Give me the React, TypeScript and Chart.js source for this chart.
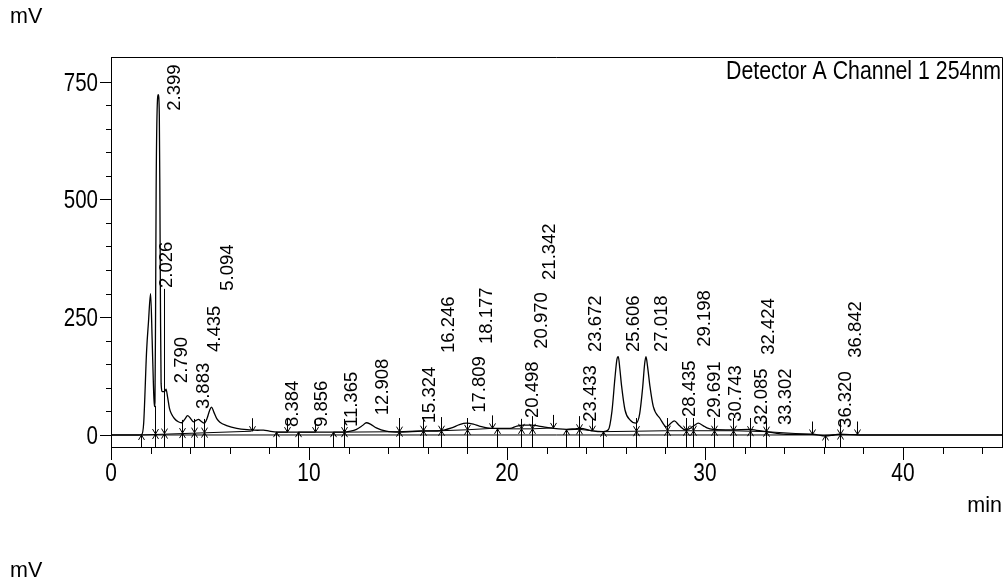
import React, { useEffect, useRef } from "react";
import { Chart, registerables } from "chart.js";

Chart.register(...registerables);

// ---- chromatogram signal (min, mV) ----
const signalTime = [
  0, 1.4, 1.55, 1.65, 1.8, 1.89, 2.0, 2.08, 2.14, 2.19, 2.22, 2.25, 2.28, 2.33, 2.39, 2.44, 2.47, 2.5, 2.53, 2.6,
  2.7, 2.78, 2.86, 2.95, 3.05, 3.2, 3.4, 3.57, 3.72, 3.87, 4.0, 4.16, 4.3, 4.42, 4.55, 4.71, 4.85, 4.98, 5.08, 5.2,
  5.35, 5.5, 5.84, 6.35, 7.0, 7.4, 7.7, 8.0, 8.4, 9.0, 10.0, 11.0, 11.7, 12.1, 12.4, 12.7, 12.9, 13.1, 13.4, 13.9,
  14.6, 15.7, 16.6, 17.2, 17.6, 17.96, 18.3, 18.6, 19.2, 20.15, 20.5, 20.83, 21.25, 21.6, 22.0, 23.0, 23.4, 23.7, 24.28, 24.86,
  25.12, 25.3, 25.45, 25.55, 25.62, 25.7, 25.79, 25.96, 26.21, 26.52, 26.7, 26.85, 26.95, 27.02, 27.1, 27.22, 27.39, 27.73, 28.06, 28.25,
  28.45, 28.7, 29.0, 29.2, 29.45, 29.66, 29.9, 30.1, 30.4, 31.35, 32.27, 32.6, 33.1, 34.1, 35.4, 36.1, 36.5, 36.8, 37.8, 45.0,
];
const signalMv = [
  0, 0, 1, 25, 180, 238, 300, 200, 110, 60, 70, 250, 520, 690, 722, 680, 500, 260, 110, 92,
  92, 97, 80, 57, 45, 35, 28, 26, 33, 41, 36, 28, 31, 33, 29, 25, 35, 52, 59, 48,
  34, 27, 20, 14, 11, 10, 10.5, 8, 6, 6, 6, 6, 6, 8, 12, 20, 26, 23, 15, 8,
  6, 8, 9, 15, 22, 25, 23, 19, 14, 14, 19, 21, 21, 19, 16, 12, 13, 14, 9, 7,
  11, 50, 120, 160, 166, 140, 103, 53, 32, 25, 45, 100, 150, 166, 145, 103, 60, 35, 17, 24,
  30, 20, 11, 13, 20, 25, 20, 15, 12, 11, 12, 10, 7, 1.5, 1.5, -2, 0, 1.5, 0, 0,
];

// ---- integration baseline (null = gap) ----
const baseTime = [
  1.52, 7.1, 7.5, 8.33, 8.9, 9.2, 9.46, 10.3, 10.8, 11.23, 11.77, 14.55, 15.74, 16.65, 17.96, 19.23, 19.4, 19.5, 20.69, 21.25,
  22.34, 22.6, 23.0, 23.65, 24.3, 24.5, 24.83, 26.52, 28.06, 29.04, 29.38, 30.45, 31.4, 32.27, 33.08, 35.39, 35.7, 36.06, 36.82, 37.69,
];
const baseMv = [
  0, 8, null, 6, 6, null, 6, 6, null, 6, 6, 7, 9, 9, 11, 14, null, 13, 13, 13,
  15, null, 11, 12, 9, null, 7, 8, 9, 9, 9, 9, 9, 8, 7, 1, null, -1, 1, 1,
];

// ---- zero line ----
const zeroTime = [0, 45];
const zeroMv = [0, 0];

// ---- peak labels ----
const peakTimes = [
  2.026, 2.399, 2.79, 3.883, 4.435, 5.094, 8.384, 9.856, 11.365, 12.908, 15.324, 16.246, 17.809, 18.177, 20.498,
  20.97, 21.342, 23.433, 23.672, 25.606, 27.018, 28.435, 29.198, 29.691, 30.743, 32.085, 32.424, 33.302, 36.32, 36.842,
];
const peakLabels = [
  "2.026", "2.399", "2.790", "3.883", "4.435", "5.094", "8.384", "9.856", "11.365", "12.908", "15.324", "16.246", "17.809", "18.177", "20.498",
  "20.970", "21.342", "23.433", "23.672", "25.606", "27.018", "28.435", "29.198", "29.691", "30.743", "32.085", "32.424", "33.302", "36.320", "36.842",
];
const labelLevel = [
  312, 688, 110, 55, 176, 306, 17, 17, 17, 42, 25, 174, 47, 193, 36,
  183, 329, 28, 176, 176, 176, 38, 187, 36, 28, 21, 170, 21, 15, 164,
];

// ---- integration markers: u = start, d = end, x = split ----
const markerTime = [
  1.52, 2.22, 2.69, 3.57, 4.21, 4.71, 7.1, 8.33, 8.9, 9.46, 10.3, 11.23, 11.77, 14.55, 15.74, 16.65, 17.96, 19.23, 19.5, 20.69,
  21.25, 22.34, 23.0, 23.65, 24.3, 24.83, 26.52, 28.06, 29.04, 29.38, 30.45, 31.4, 32.27, 33.08, 35.39, 36.06, 36.82, 37.69,
];
const markerKind = [
  "u", "x", "x", "x", "x", "x", "d", "u", "d", "u", "d", "u", "x", "x", "x", "x", "x", "d", "u", "x",
  "x", "d", "u", "x", "d", "u", "x", "x", "x", "x", "x", "x", "x", "x", "d", "u", "x", "d",
];
const markerLevel = [
  0, 2, 3, 4, 5, 5, 8, 6, 6, 6, 6, 6, 6, 7, 9, 9, 11, 14, 13, 13,
  13, 15, 11, 12, 9, 7, 8, 9, 9, 9, 9, 9, 8, 7, 1, -1, 1, 1,
];
const markerTop = [
  0, 62, 310, 32, 34, 34, 0, 0, 0, 0, 0, 0, 34, 36, 38, 38, 36, 0, 0, 32,
  40, 0, 0, 40, 0, 0, 36, 36, 36, 36, 36, 36, 36, 36, 0, 0, 32, 0,
];

// ---- axes ----
const xTickValues = [0, 10, 20, 30, 40];
const xTickLabels = ["0", "10", "20", "30", "40"];
const xMinorValues = [2, 4, 6, 8, 12, 14, 16, 18, 22, 24, 26, 28, 32, 34, 36, 38, 42, 44];
const yTickValues = [0, 250, 500, 750];
const yTickLabels = ["0", "250", "500", "750"];
const yMinorValues = [50, 100, 150, 200, 300, 350, 400, 450, 550, 600, 650, 700];

const SANS = "'Liberation Sans', Arial, sans-serif";
const SQUEEZE = 0.82;

function narrowText(ctx: CanvasRenderingContext2D, text: string, x: number, y: number, size: number, align: CanvasTextAlign) {
  ctx.save();
  ctx.translate(x, y);
  ctx.scale(SQUEEZE, 1);
  ctx.font = `${size}px ${SANS}`;
  ctx.textAlign = align;
  ctx.textBaseline = "alphabetic";
  ctx.fillText(text, 0, 0);
  ctx.restore();
}

const decorPlugin = {
  id: "decor",
  afterDatasetsDraw(chart: any) {
    const { ctx, chartArea: a, scales } = chart;
    const x = scales.x;
    const y = scales.y;
    ctx.save();
    ctx.strokeStyle = "#000";
    ctx.fillStyle = "#000";
    ctx.lineWidth = 1;

    // frame top & right
    ctx.beginPath();
    ctx.moveTo(a.left, a.top + 0.5);
    ctx.lineTo(a.right + 0.5, a.top + 0.5);
    ctx.lineTo(a.right + 0.5, a.bottom);
    ctx.stroke();

    // x ticks
    ctx.beginPath();
    for (const v of xTickValues) {
      const px = Math.round(x.getPixelForValue(v)) + 0.5;
      ctx.moveTo(px, a.bottom);
      ctx.lineTo(px, a.bottom + 13);
    }
    for (const v of xMinorValues) {
      const px = Math.round(x.getPixelForValue(v)) + 0.5;
      ctx.moveTo(px, a.bottom);
      ctx.lineTo(px, a.bottom + 7);
    }
    // y ticks
    for (const v of yTickValues) {
      const py = Math.round(y.getPixelForValue(v)) + 0.5;
      ctx.moveTo(a.left, py);
      ctx.lineTo(a.left - 11, py);
    }
    for (const v of yMinorValues) {
      const py = Math.round(y.getPixelForValue(v)) + 0.5;
      ctx.moveTo(a.left, py);
      ctx.lineTo(a.left - 5, py);
    }
    ctx.stroke();

    // tick labels
    xTickValues.forEach((v, i) => {
      narrowText(ctx, xTickLabels[i], x.getPixelForValue(v), a.bottom + 34, 25.5, "center");
    });
    yTickValues.forEach((v, i) => {
      narrowText(ctx, yTickLabels[i], a.left - 13, y.getPixelForValue(v) + 9, 25, "right");
    });

    // integration markers
    const yAxisPx = a.bottom;
    ctx.beginPath();
    for (let i = 0; i < markerTime.length; i++) {
      const px = Math.round(x.getPixelForValue(markerTime[i])) + 0.5;
      const py = y.getPixelForValue(markerLevel[i]);
      const k = markerKind[i];
      if (k === "u") {
        ctx.moveTo(px, yAxisPx);
        ctx.lineTo(px, py);
        ctx.moveTo(px - 3, py + 5);
        ctx.lineTo(px, py);
        ctx.lineTo(px + 3, py + 5);
      } else if (k === "d") {
        ctx.moveTo(px, py - 13);
        ctx.lineTo(px, py);
        ctx.moveTo(px - 3, py - 5);
        ctx.lineTo(px, py);
        ctx.lineTo(px + 3, py - 5);
      } else {
        const top = y.getPixelForValue(markerTop[i]);
        ctx.moveTo(px, yAxisPx);
        ctx.lineTo(px, Math.min(top, py - 10));
        ctx.moveTo(px - 3, py + 5);
        ctx.lineTo(px, py);
        ctx.lineTo(px + 3, py + 5);
        ctx.moveTo(px - 3, py - 5);
        ctx.lineTo(px, py);
        ctx.lineTo(px + 3, py - 5);
      }
    }
    ctx.stroke();

    // peak labels (rotated)
    ctx.font = `18.5px ${SANS}`;
    ctx.textAlign = "left";
    ctx.textBaseline = "alphabetic";
    for (let i = 0; i < peakTimes.length; i++) {
      const px = x.getPixelForValue(peakTimes[i]);
      const py = y.getPixelForValue(labelLevel[i]);
      ctx.save();
      ctx.translate(px + 21, py);
      ctx.rotate(-Math.PI / 2);
      ctx.fillText(peakLabels[i], 0, 0);
      ctx.restore();
    }

    // texts
    narrowText(ctx, "Detector A Channel 1 254nm", a.right - 1, a.top + 22, 26, "right");
    ctx.font = `21.5px ${SANS}`;
    ctx.textAlign = "left";
    ctx.textBaseline = "alphabetic";
    ctx.fillText("mV", 10, 23);
    ctx.fillText("mV", 10, 577);
    ctx.textAlign = "right";
    ctx.fillText("min", a.right, 512);
    ctx.restore();
  },
};

export default function App() {
  const ref = useRef<HTMLCanvasElement | null>(null);
  useEffect(() => {
    if (!ref.current) return;
    const chart = new Chart(ref.current, {
      type: "line",
      data: {
        datasets: [
          {
            label: "zero",
            data: zeroTime.map((t, i) => ({ x: t, y: zeroMv[i] })),
            borderColor: "#000",
            borderWidth: 1,
            pointRadius: 0,
          },
          {
            label: "baseline",
            data: baseTime.map((t, i) => ({ x: t, y: baseMv[i] })),
            borderColor: "#000",
            borderWidth: 1,
            pointRadius: 0,
            spanGaps: false,
          },
          {
            label: "Detector A Channel 1 254nm",
            data: signalTime.map((t, i) => ({ x: t, y: signalMv[i] })),
            borderColor: "#000",
            borderWidth: 1.3,
            pointRadius: 0,
            cubicInterpolationMode: "monotone",
          },
        ],
      },
      options: {
        responsive: false,
        animation: false,
        devicePixelRatio: 1,
        layout: { padding: { top: 57, right: 5, left: 0, bottom: 0 } },
        plugins: { legend: { display: false }, tooltip: { enabled: false }, title: { display: false } },
        scales: {
          x: {
            type: "linear",
            min: 0,
            max: 45,
            afterBuildTicks: (s: any) => {
              s.ticks = xTickValues.map((v) => ({ value: v }));
            },
            afterFit: (s: any) => {
              s.height = 134;
            },
            grid: { display: false, drawTicks: false },
            border: { display: true, color: "#000", width: 1 },
            ticks: { display: false },
          },
          y: {
            type: "linear",
            min: -25.5,
            max: 802,
            afterBuildTicks: (s: any) => {
              s.ticks = yTickValues.map((v) => ({ value: v }));
            },
            afterFit: (s: any) => {
              s.width = 111;
            },
            grid: { display: false, drawTicks: false },
            border: { display: true, color: "#000", width: 1 },
            ticks: { display: false },
          },
        },
      },
      plugins: [decorPlugin],
    });
    return () => chart.destroy();
  }, []);
  return (
    <div style={{ position: "absolute", left: 0, top: 0, width: 1007, height: 581, background: "#fff" }}>
      <canvas ref={ref} width={1007} height={581} style={{ display: "block" }} />
    </div>
  );
}
